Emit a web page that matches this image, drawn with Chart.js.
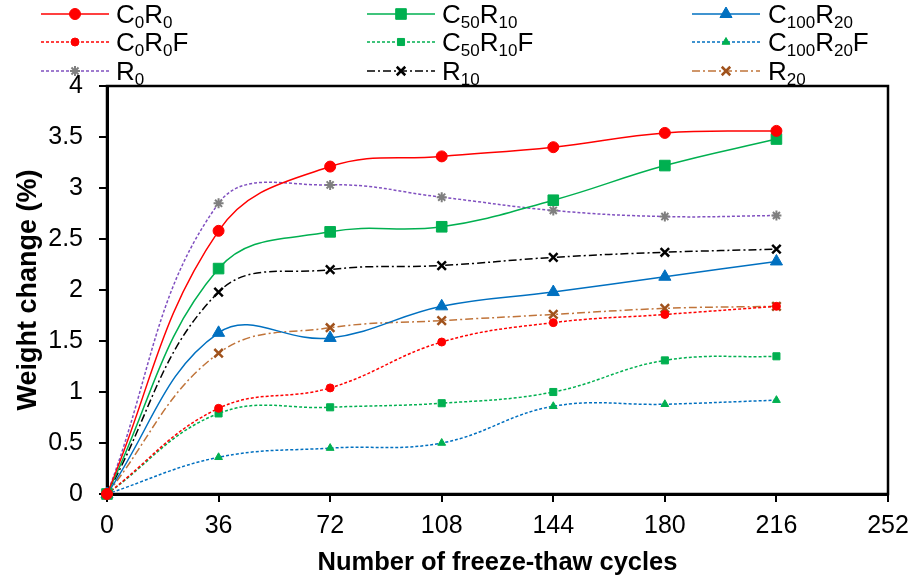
<!DOCTYPE html>
<html>
<head>
<meta charset="utf-8">
<script src="https://cdn.jsdelivr.net/npm/chart.js@4.4.0/dist/chart.umd.min.js"></script>
<style>
  html, body { margin: 0; padding: 0; background: #fff; }
  #wrap { position: relative; width: 914px; height: 579px; }
  #legend span {
    position: absolute;
    font: 26px 'Liberation Sans', Arial, sans-serif;
    line-height: 26px;
    white-space: nowrap;
    color: #000;
  }
  #legend sub { font-size: 17px; vertical-align: -5px; line-height: 0; }
</style>
</head>
<body>
<div id="wrap">
  <canvas id="chart" width="914" height="579"></canvas>
  <div id="legend"></div>
</div>
<script>
'use strict';

let cycles = [0, 36, 72, 108, 144, 180, 216];
let seriesNames = ['C0R0', 'C50R10', 'C100R20', 'C0R0F', 'C50R10F', 'C100R20F', 'R0', 'R10', 'R20'];

let c0r0 = [0, 2.58, 3.21, 3.31, 3.40, 3.54, 3.56];
let c50r10 = [0, 2.21, 2.57, 2.62, 2.88, 3.22, 3.48];
let c100r20 = [0, 1.58, 1.53, 1.84, 1.98, 2.13, 2.28];
let c0r0f = [0, 0.84, 1.04, 1.49, 1.68, 1.76, 1.84];
let c50r10f = [0, 0.79, 0.85, 0.89, 1.00, 1.31, 1.35];
let c100r20f = [0, 0.36, 0.45, 0.50, 0.86, 0.88, 0.92];
let r0 = [0, 2.85, 3.03, 2.91, 2.78, 2.72, 2.73];
let r10 = [0, 1.98, 2.20, 2.24, 2.32, 2.37, 2.40];
let r20 = [0, 1.38, 1.63, 1.70, 1.76, 1.82, 1.84];

let seriesValues = [c0r0, c50r10, c100r20, c0r0f, c50r10f, c100r20f, r0, r10, r20];

let xMin = 0, xMax = 252, xStep = 36;
let yMin = 0, yMax = 4, yStep = 0.5;

const FONT = "'Liberation Sans', Arial, sans-serif";

// look of each series: line colour, dash, marker
let styles = [
  { line: '#FF0000', dash: [], shape: 'circle', r: 5.5, fill: '#FF0000', edge: '#FF0000' },
  { line: '#00B050', dash: [], shape: 'rect', r: 7.5, fill: '#00B050', edge: '#00B050' },
  { line: '#0070C0', dash: [], shape: 'triangle', r: 7, fill: '#0070C0', edge: '#0070C0' },
  { line: '#FF0000', dash: [3, 2], shape: 'circle', r: 4, fill: '#FF0000', edge: '#FF0000' },
  { line: '#00B050', dash: [3, 2], shape: 'rect', r: 5, fill: '#00B050', edge: '#00B050' },
  { line: '#0070C0', dash: [3, 2], shape: 'triangle', r: 4.5, fill: '#00B050', edge: '#00B050' },
  { line: '#8050C0', dash: [3, 2], shape: 'star', r: 5, fill: '#7F7F7F', edge: '#7F7F7F' },
  { line: '#000000', dash: [8, 3, 2, 3], shape: 'crossRot', r: 6, fill: '#000000', edge: '#000000' },
  { line: '#C0743A', dash: [8, 3, 2, 3], shape: 'crossRot', r: 6, fill: '#A0521C', edge: '#A0521C' }
];

let datasets = seriesNames.map(function (name, i) {
  let st = styles[i];
  return {
    label: name,
    data: cycles.map(function (c, j) { return { x: c, y: seriesValues[i][j] }; }),
    borderColor: st.line,
    borderWidth: 1.5,
    borderDash: st.dash,
    tension: 0.4,
    pointStyle: st.shape,
    pointRadius: st.r,
    pointBackgroundColor: st.fill,
    pointBorderColor: st.edge,
    pointBorderWidth: st.shape === 'crossRot' ? 2.5 : (st.shape === 'star' ? 2 : 1),
    clip: false
  };
});

function drawMarker(ctx, shape, x, y, r, fill, edge, bw) {
  ctx.save();
  ctx.fillStyle = fill;
  ctx.strokeStyle = edge;
  ctx.lineWidth = bw;
  ctx.setLineDash([]);
  ctx.beginPath();
  if (shape === 'circle') {
    ctx.arc(x, y, r, 0, Math.PI * 2);
    ctx.fill(); ctx.stroke();
  } else if (shape === 'rect') {
    let s = r * Math.SQRT1_2;
    ctx.rect(x - s, y - s, 2 * s, 2 * s);
    ctx.fill(); ctx.stroke();
  } else if (shape === 'triangle') {
    let a = 0;
    ctx.moveTo(x + Math.sin(a) * r, y - Math.cos(a) * r);
    a += Math.PI * 2 / 3;
    ctx.lineTo(x + Math.sin(a) * r, y - Math.cos(a) * r);
    a += Math.PI * 2 / 3;
    ctx.lineTo(x + Math.sin(a) * r, y - Math.cos(a) * r);
    ctx.closePath();
    ctx.fill(); ctx.stroke();
  } else {
    let d = r * Math.SQRT1_2;
    ctx.moveTo(x - d, y - d); ctx.lineTo(x + d, y + d);
    ctx.moveTo(x - d, y + d); ctx.lineTo(x + d, y - d);
    if (shape === 'star') {
      ctx.moveTo(x, y - r); ctx.lineTo(x, y + r);
      ctx.moveTo(x - r, y); ctx.lineTo(x + r, y);
    }
    ctx.stroke();
  }
  ctx.restore();
}

let legendLineX = [41, 367, 692];
let legendTextX = [116, 442, 768];
let legendRowY = [14, 42, 71];

const frameAndLegend = {
  id: 'frameAndLegend',
  beforeDatasetsDraw(chart) {
    let a = chart.chartArea;
    let ctx = chart.ctx;
    ctx.save();
    ctx.strokeStyle = '#000';
    ctx.lineWidth = 2.5;
    ctx.strokeRect(a.left, a.top, a.right - a.left, a.bottom - a.top);
    ctx.restore();
  },
  afterDraw(chart) {
    let ctx = chart.ctx;
    chart.data.datasets.forEach(function (ds, i) {
      let col = i % 3;
      let row = Math.floor(i / 3);
      let x0 = legendLineX[col];
      let x1 = x0 + 68;
      let y = legendRowY[row];
      ctx.save();
      ctx.strokeStyle = ds.borderColor;
      ctx.lineWidth = ds.borderWidth;
      ctx.setLineDash(ds.borderDash);
      ctx.beginPath();
      ctx.moveTo(x0, y);
      ctx.lineTo(x1, y);
      ctx.stroke();
      ctx.restore();
      drawMarker(ctx, ds.pointStyle, (x0 + x1) / 2, y, ds.pointRadius,
        ds.pointBackgroundColor, ds.pointBorderColor, ds.pointBorderWidth);
    });
  }
};

let legendBox = document.getElementById('legend');
seriesNames.forEach(function (name, i) {
  let span = document.createElement('span');
  span.innerHTML = name.replace(/(\d+)/g, '<sub>$1</sub>');
  span.style.left = legendTextX[i % 3] + 'px';
  span.style.top = (legendRowY[Math.floor(i / 3)] - 13) + 'px';
  legendBox.appendChild(span);
});

let ctx = document.getElementById('chart').getContext('2d');
new Chart(ctx, {
  type: 'line',
  data: { datasets: datasets },
  plugins: [frameAndLegend],
  options: {
    responsive: false,
    animation: false,
    layout: { padding: { top: 86, right: 26, left: 0, bottom: 0 } },
    plugins: { legend: { display: false }, tooltip: { enabled: false } },
    scales: {
      x: {
        type: 'linear',
        min: xMin,
        max: xMax,
        afterFit: function (scale) {
          scale.height = 85;
          scale.paddingLeft = 0;
          scale.paddingRight = 0;
        },
        afterBuildTicks: function (scale) {
          let t = [];
          for (let v = xMin; v <= xMax; v += xStep) t.push({ value: v });
          scale.ticks = t;
        },
        ticks: { color: '#000', font: { family: FONT, size: 25 }, padding: 9, maxRotation: 0, autoSkip: false },
        grid: { drawOnChartArea: false, drawTicks: true, tickLength: 8, color: '#000', lineWidth: 2 },
        border: { color: '#000', width: 3 },
        title: {
          display: true,
          text: 'Number of freeze-thaw cycles',
          color: '#000',
          font: { family: FONT, size: 25.5, weight: 'bold' },
          padding: { top: 0, bottom: 1 }
        }
      },
      y: {
        min: yMin,
        max: yMax,
        afterFit: function (scale) { scale.width = 107; },
        ticks: {
          stepSize: yStep,
          color: '#000',
          font: { family: FONT, size: 25 },
          padding: 16,
          callback: function (v) { return String(Math.round(v * 10) / 10); }
        },
        grid: { drawOnChartArea: false, drawTicks: true, tickLength: 8, color: '#000', lineWidth: 2 },
        border: { color: '#000', width: 3 },
        title: {
          display: true,
          text: 'Weight change (%)',
          color: '#000',
          font: { family: FONT, size: 27, weight: 'bold' },
          padding: { top: 12, bottom: 0 }
        }
      }
    }
  }
});
</script>
</body>
</html>
